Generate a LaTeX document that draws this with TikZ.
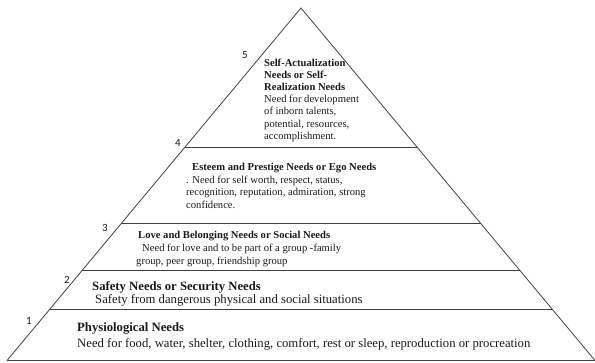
\documentclass[tikz,border=0pt]{standalone}
\usepackage{fontspec}
\setmainfont{Liberation Serif}
\newfontfamily\numfont{Carlito}
\usetikzlibrary{calc}
\begin{document}
\begin{tikzpicture}[x=1pt,y=-1pt,
  edge/.style={draw=black!75, line width=0.8pt},
  small/.style={font=\fontsize{10.6}{12.4}\selectfont, text=black!90, inner sep=0, anchor=base west, align=left},
  big/.style={font=\fontsize{12.7}{14}\selectfont, text=black!90, inner sep=0, anchor=base west, align=left},
  num/.style={font=\numfont\fontsize{11}{13}\selectfont, text=black!90, inner sep=0}]
\useasboundingbox (0,0) rectangle (595,363);
% pyramid
\coordinate (apex) at (301,8);
\coordinate (bl) at (7,360.5);
\coordinate (br) at (595,360.5);
\draw[edge] (bl) -- (apex) -- (br);
\draw[edge] (bl) -- (br);
\foreach \t/\n in {0.3943/4, 0.6108/3, 0.7452/2, 0.8539/1}{
  \draw[edge] ($(apex)!\t!(bl)$) -- ($(apex)!\t!(br)$);
}
% numbers
\node[num] (n5) at (245,55) {5};
\node[num] (n4) at (178,143) {4};
\node[num] (n3) at (105,228) {3};
\node[num] (n2) at (67,280) {2};
\node[num] (n1) at (29,321) {1};
% tier 5 (multi-line nodes: base = baseline of last line)
\node[small, font=\fontsize{10.6}{12.2}\selectfont\bfseries] (t5) at (264,90.6) {Self-Actualization\\Needs or Self-\\Realization Needs};
\node[small, font=\fontsize{10.6}{12.2}\selectfont] (b5) at (264,139.4) {Need for development\\of inborn talents,\\potential, resources,\\accomplishment.};
% tier 4
\node[small, font=\fontsize{10.6}{12.5}\selectfont\bfseries] (t4) at (192,170.2) {Esteem and Prestige Needs or Ego Needs};
\node[small, font=\fontsize{10.6}{12.5}\selectfont] (b4) at (186,208.2) {. Need for self worth, respect, status,\\recognition, reputation, admiration, strong\\confidence.};
% tier 3
\node[small, font=\fontsize{10.6}{13}\selectfont\bfseries] (t3) at (138,238.2) {Love and Belonging Needs or Social Needs};
\node[small, font=\fontsize{10.6}{13}\selectfont] (b3) at (136,264.2) {\hspace*{6pt}Need for love and to be part of a group -family\\group, peer group, friendship group};
% tier 2
\node[big, font=\fontsize{12.7}{14}\selectfont\bfseries] (t2) at (92,290.8) {Safety Needs or Security Needs};
\node[big] (b2) at (95,303.8) {Safety from dangerous physical and social situations};
% tier 1
\node[big, font=\fontsize{12.7}{14}\selectfont\bfseries] (t1) at (77,331.8) {Physiological Needs};
\node[big] (b1) at (77,347.8) {Need for food, water, shelter, clothing, comfort, rest or sleep, reproduction or procreation};
\end{tikzpicture}
\end{document}
